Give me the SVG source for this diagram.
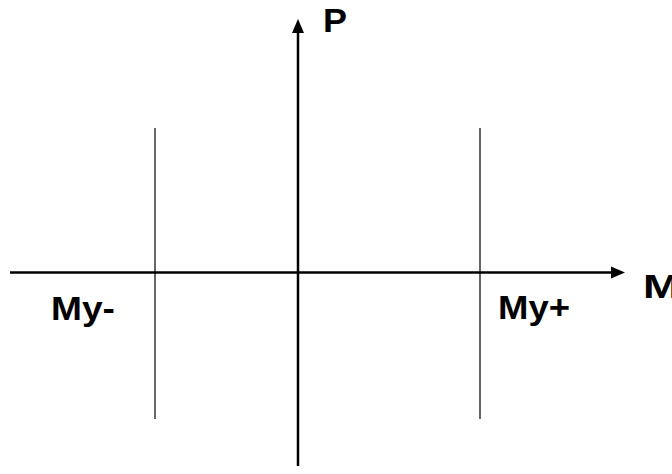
<svg xmlns="http://www.w3.org/2000/svg" width="672" height="474" viewBox="0 0 672 474">
<style>
.axis{stroke:#000;stroke-width:2.5;fill:none}
.thin{stroke:#000;stroke-width:1.2;fill:none}
.lbl{font-family:"Liberation Sans",Arial,sans-serif;font-weight:bold;font-size:33px;fill:#000}
</style>
<rect width="672" height="474" fill="#fff"/>
<g id="connectors">
<line class="axis" x1="10" y1="272.5" x2="612" y2="272.5"/>
<polygon points="625,272.5 611,266.5 611,278.5" fill="#000"/>
<line class="axis" x1="298" y1="466" x2="298" y2="32"/>
<polygon points="298,19 292,33 304,33" fill="#000"/>
<line class="thin" x1="155" y1="128" x2="155" y2="419"/>
<line class="thin" x1="480" y1="128" x2="480" y2="419"/>
</g>
<g id="label-P"><text class="lbl" x="323" y="32" textLength="24" lengthAdjust="spacingAndGlyphs">P</text></g>
<g id="label-M"><text class="lbl" x="643" y="298" textLength="37" lengthAdjust="spacingAndGlyphs">M</text></g>
<g id="label-My-minus"><text class="lbl" x="51" y="320" textLength="64" lengthAdjust="spacingAndGlyphs">My-</text></g>
<g id="label-My-plus"><text class="lbl" x="498" y="319" textLength="72" lengthAdjust="spacingAndGlyphs">My+</text></g>
</svg>
